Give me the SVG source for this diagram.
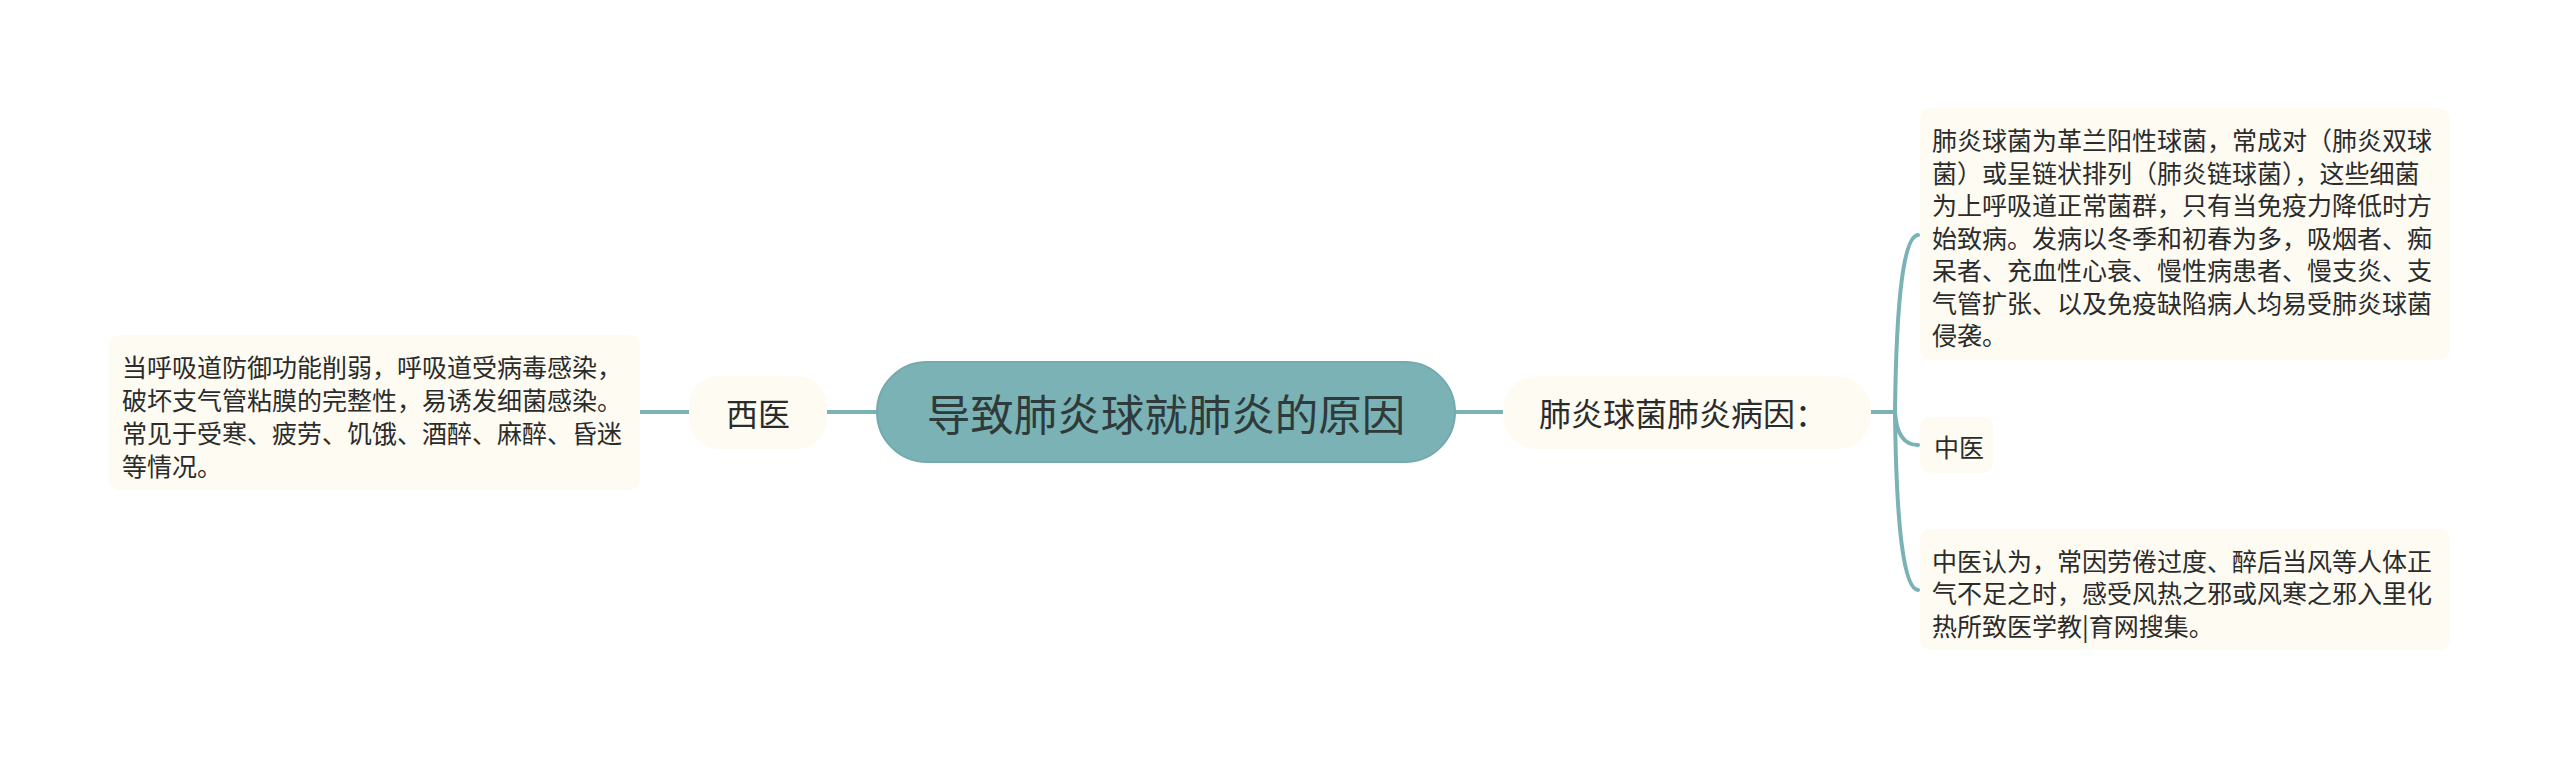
<svg xmlns="http://www.w3.org/2000/svg" width="2560" height="761" viewBox="0 0 2560 761">
<style>
.bg{fill:#ffffff}
.box{fill:#fdfbf2}
.root{fill:#7ab2b5;stroke:#74aaad;stroke-width:2}
.t{font-family:"Noto Sans CJK SC","Noto Sans",sans-serif;fill:#2b2b2b;dominant-baseline:central}
.s{font-size:25px}
.m{font-size:32px;text-anchor:middle}
.l{font-size:43.5px;text-anchor:middle;fill:#2f3a3a}
.c{fill:none;stroke:#7ab3b5;stroke-width:4;stroke-linecap:round}
</style>
<rect class="bg" x="0" y="0" width="2560" height="761"/>
<g id="connectors">
<path class="c" d="M640 412 L689 412"/>
<path class="c" d="M827 412 L877 412"/>
<path class="c" d="M1455 412 L1503 412"/>
<path class="c" d="M1871 412 L1895 412"/>
<path class="c" d="M1895 412 Q1897 237 1918 235"/>
<path class="c" d="M1895 412 Q1897 445 1918 445"/>
<path class="c" d="M1895 412 Q1897 588 1918 590"/>
</g>
<g id="root">
<rect class="root" x="877" y="362" width="578" height="100" rx="50"/>
<text class="t l" x="1166" y="412">导致肺炎球就肺炎的原因</text>
</g>
<g id="xiyi">
<rect class="box" x="689" y="376" width="138" height="73" rx="30"/>
<text class="t m" x="758" y="412">西医</text>
</g>
<g id="xiyi-text">
<rect class="box" x="109" y="335" width="531" height="155" rx="10"/>
<text class="t s" x="122" y="366">当呼吸道防御功能削弱，呼吸道受病毒感染，</text>
<text class="t s" x="122" y="399">破坏支气管粘膜的完整性，易诱发细菌感染。</text>
<text class="t s" x="122" y="432">常见于受寒、疲劳、饥饿、酒醉、麻醉、昏迷</text>
<text class="t s" x="122" y="465">等情况。</text>
</g>
<g id="cause">
<rect class="box" x="1503" y="376" width="368" height="73" rx="34"/>
<text class="t m" x="1683" y="412">肺炎球菌肺炎病因：</text>
</g>
<g id="cause-text">
<rect class="box" x="1920" y="108" width="530" height="252" rx="10"/>
<text class="t s" x="1932" y="139">肺炎球菌为革兰阳性球菌，常成对（肺炎双球</text>
<text class="t s" x="1932" y="171.5">菌）或呈链状排列（肺炎链球菌），这些细菌</text>
<text class="t s" x="1932" y="204">为上呼吸道正常菌群，只有当免疫力降低时方</text>
<text class="t s" x="1932" y="236.5">始致病。发病以冬季和初春为多，吸烟者、痴</text>
<text class="t s" x="1932" y="269">呆者、充血性心衰、慢性病患者、慢支炎、支</text>
<text class="t s" x="1932" y="301.5">气管扩张、以及免疫缺陷病人均易受肺炎球菌</text>
<text class="t s" x="1932" y="334">侵袭。</text>
</g>
<g id="zhongyi">
<rect class="box" x="1920" y="417" width="73" height="56" rx="10"/>
<text class="t s" x="1934" y="446">中医</text>
</g>
<g id="zhongyi-text">
<rect class="box" x="1920" y="529" width="530" height="121" rx="10"/>
<text class="t s" x="1932" y="560">中医认为，常因劳倦过度、醉后当风等人体正</text>
<text class="t s" x="1932" y="592">气不足之时，感受风热之邪或风寒之邪入里化</text>
<text class="t s" x="1932" y="625">热所致医学教|育网搜集。</text>
</g>
</svg>
